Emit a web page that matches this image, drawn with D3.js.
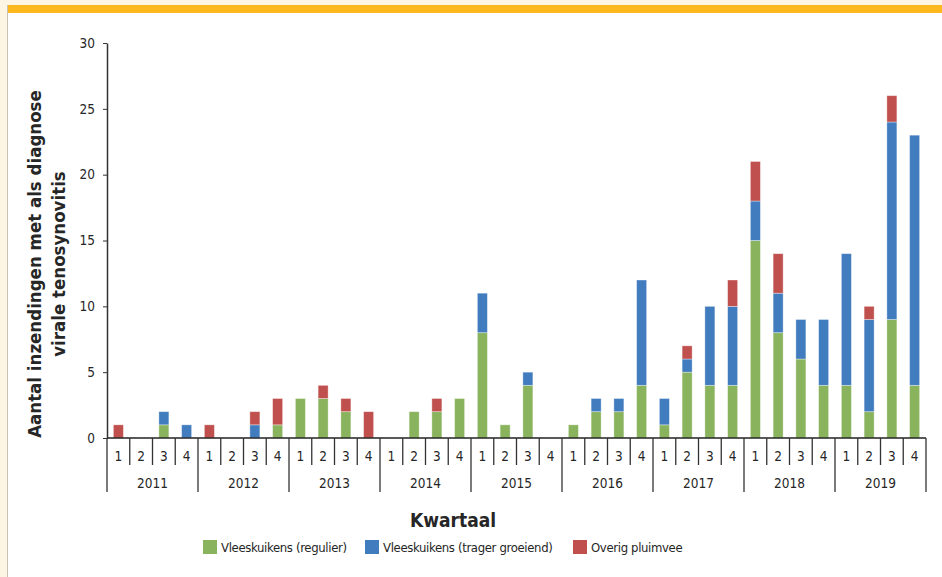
<!DOCTYPE html>
<html>
<head>
<meta charset="utf-8">
<script src="https://cdn.jsdelivr.net/npm/d3@7"></script>
<style>
  body { margin: 0; background: #fdf5e4; }
  svg { display: block; }
  text { font-family: "Liberation Sans Narrow", "DejaVu Sans Condensed", "Liberation Sans", sans-serif; fill: #262626; }
</style>
</head>
<body>
<div id="chart"></div>
<script>
// kwartalen 2011-2019
var years = ["2011","2012","2013","2014","2015","2016","2017","2018","2019"];
var quarters = ["1","2","3","4"];
var series = ["Vleeskuikens (regulier)", "Vleeskuikens (trager groeiend)", "Overig pluimvee"];
var colors = ["#89b35c", "#417cbe", "#c0504d"];
var yTicks = [0, 5, 10, 15, 20, 25, 30];

var regulier = [0,0,1,0, 0,0,0,1, 3,3,2,0, 0,2,2,3, 8,1,4,0, 1,2,2,4, 1,5,4,4, 15,8,6,4, 4,2,9,4];
var trager   = [0,0,1,1, 0,0,1,0, 0,0,0,0, 0,0,0,0, 3,0,1,0, 0,1,1,8, 2,1,6,6, 3,3,3,5, 10,7,15,19];
var overig   = [1,0,0,0, 1,0,1,2, 0,1,1,2, 0,0,1,0, 0,0,0,0, 0,0,0,0, 0,1,0,2, 3,3,0,0, 0,1,2,0];

var W = 942, H = 577;
var x0 = 107, x1 = 926, y0 = 438, yTop = 43;

var rows = [];
years.forEach(function(y, yi){
	quarters.forEach(function(q, qi){
		var i = yi*4 + qi;
		rows.push({key: i, year: y, q: q, regulier: regulier[i], trager: trager[i], overig: overig[i]});
	})
})

var svg = d3.select("#chart").append("svg")
	.attr("width", W)
	.attr("height", H);

// frame
svg.append("rect").attr("x",0).attr("y",0).attr("width",W).attr("height",H).style("fill","#fdf5e4");
svg.append("rect").attr("x",7).attr("y",13).attr("width",W-7).attr("height",H-13).style("fill","#fff");
svg.append("rect").attr("x",7).attr("y",5).attr("width",W-7).attr("height",8).style("fill","#fdb81e");
svg.append("line").attr("x1",7.5).attr("x2",7.5).attr("y1",5).attr("y2",H).style("stroke","#c8c2b6").style("stroke-width",1);

var x = d3.scaleBand().domain(rows.map(function(d){return d.key}))
	.range([x0, x1]).paddingInner(0.56).paddingOuter(0.28);
var slot = d3.scaleLinear().domain([0, 36]).range([x0, x1]);
var y = d3.scaleLinear().domain([0, 30]).range([y0, yTop]);

var stack = d3.stack().keys(["regulier","trager","overig"])(rows);

svg.selectAll("g.layer")
	.data(stack).enter()
	.append("g")
	.attr("class","layer")
	.style("fill", function(d,i){return colors[i]})
	.selectAll("rect")
	.data(function(d){return d}).enter()
	.append("rect")
	.filter(function(d){return d[1] > d[0]})
	.attr("x", function(d){return x(d.data.key)})
	.attr("width", x.bandwidth())
	.attr("y", function(d){return y(d[1])})
	.attr("height", function(d){return y(d[0]) - y(d[1])})
	.style("stroke", "rgba(255,255,255,0.45)")
	.style("stroke-width", 0.8);

// y axis
var yAxis = d3.axisLeft(y).tickValues(yTicks).tickSize(4).tickSizeOuter(0).tickPadding(8);
var gy = svg.append("g")
	.attr("transform", "translate(" + x0 + ",0)")
	.call(yAxis);
gy.select(".domain").style("stroke","#333").style("stroke-width",1.5);
gy.selectAll(".tick line").style("stroke","#333");
gy.selectAll(".tick text").style("font-size","13.5px").style("fill","#262626")
	.style("font-family", '"Liberation Sans Narrow", "DejaVu Sans Condensed", sans-serif');

// x axis with quarter / year separators
svg.append("line").attr("x1",x0).attr("x2",x1).attr("y1",y0).attr("y2",y0)
	.style("stroke","#222").style("stroke-width",1.5);

svg.selectAll("line.sep")
	.data(d3.range(37)).enter()
	.append("line")
	.attr("class","sep")
	.attr("x1", function(d){return slot(d)})
	.attr("x2", function(d){return slot(d)})
	.attr("y1", y0)
	.attr("y2", function(d){return d % 4 == 0 ? 492 : 465})
	.style("stroke","#333")
	.style("stroke-width",1.3);

svg.selectAll("text.q")
	.data(rows).enter()
	.append("text")
	.attr("class","q")
	.attr("x", function(d){return x(d.key) + x.bandwidth()/2})
	.attr("y", 461)
	.style("text-anchor","middle")
	.style("font-size","13.5px")
	.text(function(d){return d.q});

svg.selectAll("text.yr")
	.data(years).enter()
	.append("text")
	.attr("class","yr")
	.attr("x", function(d,i){return (slot(i*4) + slot(i*4+4))/2})
	.attr("y", 488)
	.style("text-anchor","middle")
	.style("font-size","13.5px")
	.text(function(d){return d});

// titles
svg.append("text")
	.attr("x", 453).attr("y", 527)
	.style("text-anchor","middle")
	.style("font-size","19px").style("font-weight","bold")
	.text("Kwartaal");

var yt = svg.append("text")
	.attr("transform","translate(0,264) rotate(-90)")
	.style("text-anchor","middle")
	.style("font-size","18.5px").style("font-weight","bold");
yt.append("tspan").attr("x",0).attr("y",41).text("Aantal inzendingen met als diagnose");
yt.append("tspan").attr("x",0).attr("y",65).text("virale tenosynovitis");

// legend
var legX = [203, 365, 573];
var leg = svg.selectAll("g.leg")
	.data(series).enter()
	.append("g")
	.attr("class","leg")
	.attr("transform", function(d,i){return "translate(" + legX[i] + ",540)"});
leg.append("rect").attr("width",14).attr("height",14).style("fill", function(d,i){return colors[i]});
leg.append("text").attr("x",18).attr("y",12)
	.style("font-size","13px").style("letter-spacing","-0.35px")
	.text(function(d){return d});
</script>
</body>
</html>
